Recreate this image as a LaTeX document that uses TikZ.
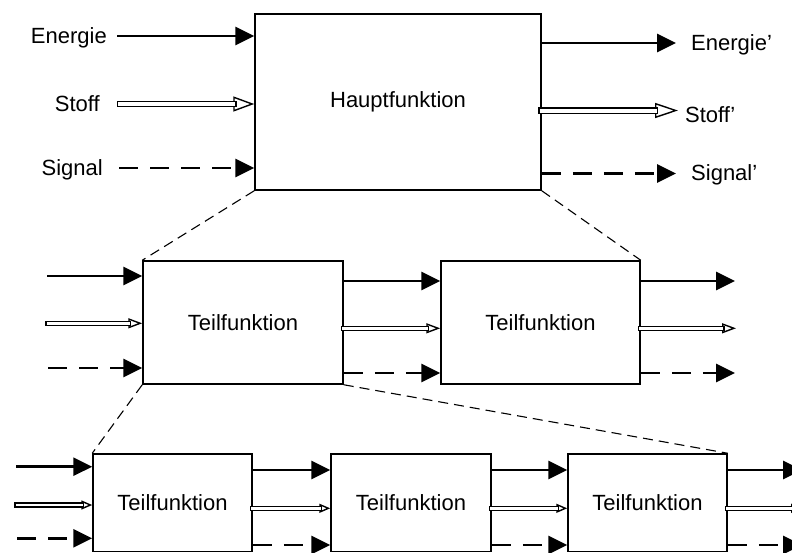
\documentclass[tikz,border=0pt]{standalone}
\usepackage{fontspec}
\setmainfont{Liberation Sans}
\usetikzlibrary{arrows.meta}
\newcommand\diafont{\fontsize{22}{26}\selectfont}
% hollow (material flow) arrow: #1 tip length, #2 tip width, #3 gap between rails, #4 start, #5 end
\newcommand\matterarrow[5]{%
  \draw[line width=1.4pt,-{Triangle[open,length=#1,width=#2]}] #4 -- #5;
  \draw[line width=1.4pt,double=white,double distance=#3,line cap=rect,shorten >=#1] #4 -- #5;}
\tikzset{
  funcbox/.style={draw,line width=1.5pt,fill=white,inner sep=0pt,font=\diafont},
  lab/.style={inner sep=0pt,font=\diafont},
  energy/.style={line width=2.8pt,-{Triangle[length=19pt,width=18pt]}},
  signal/.style={energy,dash pattern=on 19pt off 12pt},
  zoomline/.style={line width=1.1pt,dash pattern=on 10pt off 6pt},
}
\begin{document}
\begin{tikzpicture}[x=1pt,y=-1pt]
\useasboundingbox (0,0) rectangle (792,552);
\clip (0,0) rectangle (792,552);

% function boxes
\node[funcbox,minimum width=286pt,minimum height=176pt] (hf) at (398,102) {Hauptfunktion};
\node[funcbox,minimum width=200pt,minimum height=123pt] (t1) at (243,322.5) {Teilfunktion};
\node[funcbox,minimum width=199pt,minimum height=123pt] (t2) at (540.5,322.5) {Teilfunktion};
\node[funcbox,minimum width=159pt,minimum height=97.5pt] (ba) at (172.5,502.75) {Teilfunktion};
\node[funcbox,minimum width=160pt,minimum height=97.5pt] (bb) at (411,502.75) {Teilfunktion};
\node[funcbox,minimum width=159pt,minimum height=97.5pt] (bc) at (647.5,502.75) {Teilfunktion};

% refinement lines
\draw[zoomline] (hf.south west) -- (t1.north west);
\draw[zoomline] (hf.south east) -- (t2.north east);
\draw[zoomline] (t1.south west) -- (ba.north west);
\draw[zoomline] (t1.south east) -- (bc.north east);

% labels of the main function
\node[lab,anchor=base east] (lE) at (107,43) {Energie};
\node[lab,anchor=base east] (lS) at (100,111) {Stoff};
\node[lab,anchor=base east] (lG) at (103,175) {Signal};
\node[lab,anchor=base west] (rE) at (691,50) {Energie'};
\node[lab,anchor=base west] (rS) at (685,122) {Stoff'};
\node[lab,anchor=base west] (rG) at (691,180) {Signal'};

% main function flows
\coordinate (eIn) at (117,36);
\coordinate (sIn) at (120,104);
\coordinate (gIn) at (119,168);
\coordinate (eOut) at (676,43);
\coordinate (sOut) at (678,110.5);
\coordinate (gOut) at (676,173.5);
\draw[energy] (eIn) -- (eIn -| hf.west);
\matterarrow{21pt}{15pt}{4pt}{(sIn)}{(sIn -| hf.west)}
\draw[signal] (gIn) -- (gIn -| hf.west);
\draw[energy] (eOut -| hf.east) -- (eOut);
\matterarrow{23pt}{15pt}{4pt}{(sOut -| hf.east)}{(sOut)}
\draw[signal] (gOut -| hf.east) -- (gOut);

% middle level flows
\coordinate (m1e) at (47,276);
\coordinate (m1s) at (48,323.3);
\coordinate (m1g) at (48,368);
\coordinate (m2e) at (0,281);
\coordinate (m2s) at (0,328.3);
\coordinate (m2g) at (0,373);
\coordinate (m3e) at (735,281);
\coordinate (m3s) at (736,328.3);
\coordinate (m3g) at (735,373);
\draw[energy] (m1e) -- (m1e -| t1.west);
\matterarrow{14pt}{10pt}{2.6pt}{(m1s)}{(m1s -| t1.west)}
\draw[signal] (m1g) -- (m1g -| t1.west);
\draw[energy] (m2e -| t1.east) -- (m2e -| t2.west);
\matterarrow{14pt}{10pt}{2.6pt}{(m2s -| t1.east)}{(m2s -| t2.west)}
\draw[signal] (m2g -| t1.east) -- (m2g -| t2.west);
\draw[energy] (m3e -| t2.east) -- (m3e);
\matterarrow{14pt}{10pt}{2.6pt}{(m3s -| t2.east)}{(m3s)}
\draw[signal] (m3g -| t2.east) -- (m3g);

% lower level flows
\coordinate (b1e) at (16,466.7);
\coordinate (b1s) at (17,505);
\coordinate (b1g) at (17,538.3);
\coordinate (b2e) at (0,470);
\coordinate (b2s) at (0,508.3);
\coordinate (b2g) at (0,545);
\coordinate (b3e) at (802,470);
\coordinate (b3s) at (802,508.3);
\coordinate (b3g) at (802,545);
\draw[energy] (b1e) -- (b1e -| ba.west);
\matterarrow{11pt}{9pt}{2.6pt}{(b1s)}{(b1s -| ba.west)}
\draw[signal] (b1g) -- (b1g -| ba.west);
\draw[energy] (b2e -| ba.east) -- (b2e -| bb.west);
\matterarrow{11pt}{9pt}{2.6pt}{(b2s -| ba.east)}{(b2s -| bb.west)}
\draw[signal] (b2g -| ba.east) -- (b2g -| bb.west);
\draw[energy] (b2e -| bb.east) -- (b2e -| bc.west);
\matterarrow{11pt}{9pt}{2.6pt}{(b2s -| bb.east)}{(b2s -| bc.west)}
\draw[signal] (b2g -| bb.east) -- (b2g -| bc.west);
\draw[energy] (b3e -| bc.east) -- (b3e);
\matterarrow{11pt}{9pt}{2.6pt}{(b3s -| bc.east)}{(b3s)}
\draw[signal] (b3g -| bc.east) -- (b3g);
\end{tikzpicture}
\end{document}
